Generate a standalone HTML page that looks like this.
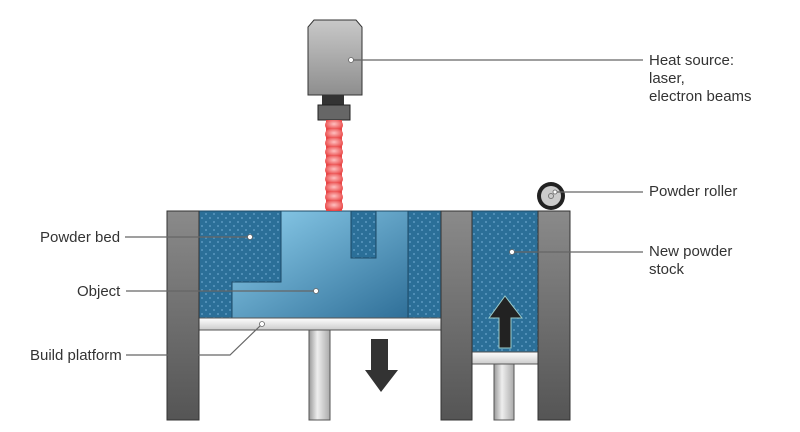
<!DOCTYPE html><html><head><style>body{margin:0;background:#fff}svg{display:block}text{font-family:"Liberation Sans",sans-serif;font-size:15px;fill:#333}</style></head><body>
<svg width="800" height="432" viewBox="0 0 800 432">
<defs>
<linearGradient id="wall" x1="0" y1="0" x2="0" y2="1"><stop offset="0" stop-color="#8a8a8a"/><stop offset="1" stop-color="#555"/></linearGradient>
<linearGradient id="box" x1="0" y1="0" x2="0" y2="1"><stop offset="0" stop-color="#c8c8c8"/><stop offset="1" stop-color="#8e8e8e"/></linearGradient>
<linearGradient id="obj" x1="0" y1="0" x2="1" y2="1"><stop offset="0" stop-color="#8fd0ee"/><stop offset="1" stop-color="#2f6f98"/></linearGradient>
<linearGradient id="pis" x1="0" y1="0" x2="1" y2="0"><stop offset="0" stop-color="#999"/><stop offset=".4" stop-color="#eee"/><stop offset="1" stop-color="#aaa"/></linearGradient>
<linearGradient id="plat" x1="0" y1="0" x2="0" y2="1"><stop offset="0" stop-color="#fff"/><stop offset="1" stop-color="#ccc"/></linearGradient>
<pattern id="pw" width="8" height="8" patternUnits="userSpaceOnUse"><rect width="8" height="8" fill="#2b6f98"/><circle cx="2" cy="2" r="1" fill="#5a98c0"/><circle cx="6" cy="6" r="1" fill="#5a98c0"/></pattern>
<radialGradient id="beam" cx=".5" cy=".4" r=".6"><stop offset="0" stop-color="#ffc0c0"/><stop offset="1" stop-color="#e84040"/></radialGradient>
</defs>
<rect x="199" y="211" width="242" height="107" fill="url(#pw)" stroke="#1d4a66"/>
<rect x="472" y="211" width="66" height="141" fill="url(#pw)" stroke="#1d4a66"/>
<path d="M281 211H351V258H376V211H408V318H232V282H281Z" fill="url(#obj)" stroke="#1d4a66"/>
<rect x="199" y="318" width="242" height="12" fill="url(#plat)" stroke="#555"/>
<rect x="472" y="352" width="66" height="12" fill="url(#plat)" stroke="#555"/>
<rect x="309" y="330" width="21" height="90" fill="url(#pis)" stroke="#555"/>
<rect x="494" y="364" width="20" height="56" fill="url(#pis)" stroke="#555"/>
<rect x="167" y="211" width="32" height="209" fill="url(#wall)" stroke="#333"/>
<rect x="441" y="211" width="31" height="209" fill="url(#wall)" stroke="#333"/>
<rect x="538" y="211" width="32" height="209" fill="url(#wall)" stroke="#333"/>
<path d="M371 339H388V370H398L381 392L365 370H371Z" fill="#333"/>
<path d="M505 296L522 318H511V348H499V318H489Z" fill="#222" stroke="#9cc" stroke-width="1"/>
<circle cx="551" cy="196" r="14" fill="#222"/><circle cx="551" cy="196" r="10" fill="#ccc"/><circle cx="551" cy="196" r="2.5" fill="none" stroke="#777"/>
<path d="M314 20H356L362 27V95H308V27Z" fill="url(#box)" stroke="#333"/>
<rect x="322" y="95" width="22" height="10" fill="#333"/>
<rect x="318" y="105" width="32" height="15" fill="#666" stroke="#222"/>
<rect x="326" y="120" width="16" height="91" fill="#e84848"/>
<g fill="url(#beam)">
<rect x="325" y="120" width="18" height="10" rx="5"/><rect x="325" y="129" width="18" height="10" rx="5"/><rect x="325" y="138" width="18" height="10" rx="5"/><rect x="325" y="147" width="18" height="10" rx="5"/><rect x="325" y="156" width="18" height="10" rx="5"/><rect x="325" y="165" width="18" height="10" rx="5"/><rect x="325" y="174" width="18" height="10" rx="5"/><rect x="325" y="183" width="18" height="10" rx="5"/><rect x="325" y="192" width="18" height="10" rx="5"/><rect x="325" y="201" width="18" height="10" rx="4"/>
</g>
<g stroke="#666" stroke-width="1.2" fill="none">
<line x1="351" y1="60" x2="643" y2="60"/>
<line x1="555" y1="192" x2="643" y2="192"/>
<line x1="512" y1="252" x2="643" y2="252"/>
<line x1="125" y1="237" x2="250" y2="237"/>
<line x1="126" y1="291" x2="316" y2="291"/>
<polyline points="126,355 230,355 261,325"/>
</g>
<g fill="#fff" stroke="#666" stroke-width=".8">
<circle cx="351" cy="60" r="2.5"/><circle cx="250" cy="237" r="2.5"/><circle cx="316" cy="291" r="2.5"/><circle cx="262" cy="324" r="2.5"/><circle cx="512" cy="252" r="2.5"/><circle cx="555" cy="192" r="2"/>
</g>
<text x="649" y="65">Heat source:</text><text x="649" y="83">laser,</text><text x="649" y="101">electron beams</text>
<text x="649" y="196">Powder roller</text>
<text x="649" y="256">New powder</text><text x="649" y="274">stock</text>
<text x="40" y="242">Powder bed</text>
<text x="77" y="296">Object</text>
<text x="30" y="360">Build platform</text>
</svg></body></html>
